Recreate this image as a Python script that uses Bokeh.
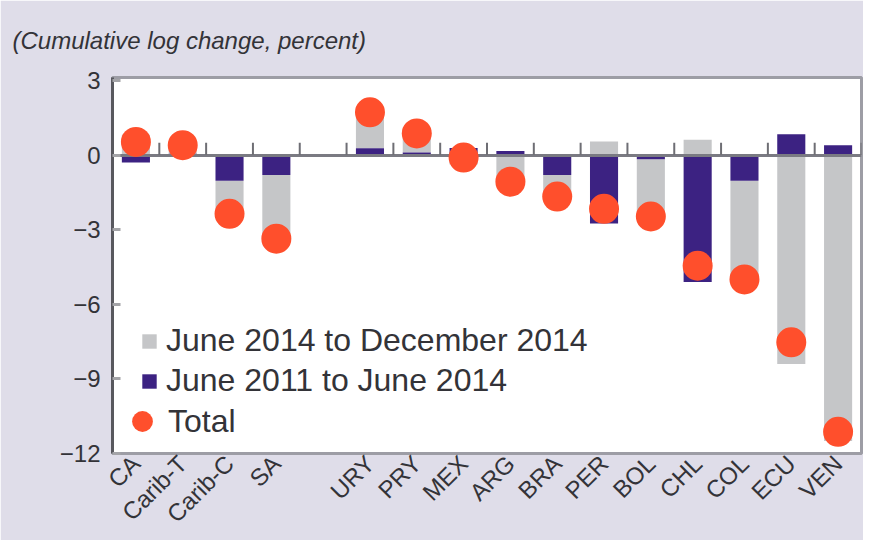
import math
from bokeh.plotting import figure
from bokeh.models import (FixedTicker, Legend, LegendItem, ColumnDataSource,
                          FactorRange, Range1d)
from bokeh.transform import dodge
from bokeh.embed import file_html
from bokeh.resources import INLINE

# ---- data -------------------------------------------------------------
categories = ["CA", "Carib-T", "Carib-C", "SA", " ", "URY", "PRY", "MEX",
              "ARG", "BRA", "PER", "BOL", "CHL", "COL", "ECU", "VEN"]
countries = ["CA", "Carib-T", "Carib-C", "SA", "URY", "PRY", "MEX", "ARG",
             "BRA", "PER", "BOL", "CHL", "COL", "ECU", "VEN"]
# June 2011 to June 2014
jun11_jun14 = [-0.30, 0.05, -1.03, -0.80, 0.27, 0.10, 0.28, 0.16, -0.80,
               -2.75, -0.17, -5.10, -1.03, 0.84, 0.40]
# June 2014 to December 2014
jun14_dec14 = [0.82, 0.35, -1.33, -2.56, 1.45, 0.77, -0.38, -1.23, -0.87,
               0.55, -2.30, 0.62, -3.97, -8.40, -11.50]
total = [0.53, 0.40, -2.36, -3.36, 1.72, 0.87, -0.10, -1.07, -1.67, -2.16,
         -2.47, -4.45, -5.00, -7.53, -11.13]
y_ticks = [3, 0, -3, -6, -9, -12]
title_text = "(Cumulative log change, percent)"

# ---- stacking (positives on positives, negatives on negatives) --------
pre_bottom = [0.0] * len(countries)
pre_top = list(jun11_jun14)
post_bottom = [a if (a >= 0) == (b >= 0) else 0.0
               for a, b in zip(jun11_jun14, jun14_dec14)]
post_top = [pb + b for pb, b in zip(post_bottom, jun14_dec14)]

src = ColumnDataSource(dict(cat=countries, pre_b=pre_bottom, pre_t=pre_top,
                            post_b=post_bottom, post_t=post_top, total=total))

BG = "#dfdde9"
GRAY = "#c5c6c8"
PURPLE = "#3c2282"
RED = "#ff4f2c"
TXT = "#333338"
FONT = "Liberation Sans"

p = figure(x_range=FactorRange(factors=categories, range_padding=0),
           y_range=Range1d(-12.0, 3.12),
           width=863, height=540, output_backend="svg", toolbar_location=None,
           min_border_left=112, min_border_right=2, min_border_top=77,
           min_border_bottom=85)
p.border_fill_color = BG
p.background_fill_color = "white"
p.outline_line_color = "#9d9da5"
p.outline_line_width = 3
p.xgrid.visible = False
p.ygrid.visible = False

# title
p.title.text = title_text
p.title.text_font = FONT
p.title.text_font_style = "italic"
p.title.text_font_size = "24px"
p.title.text_color = TXT
p.title.align = "left"
p.title.offset = -100
p.title.standoff = 47

# bars
r_post = p.vbar(x="cat", top="post_t", bottom="post_b", width=0.6,
                source=src, fill_color=GRAY, line_color=None)
r_pre = p.vbar(x="cat", top="pre_t", bottom="pre_b", width=0.6,
               source=src, fill_color=PURPLE, line_color=None)

# zero line and category boundary ticks
p.hspan(y=[0], line_color="#7a7a82", line_width=3)
tick_src = ColumnDataSource(dict(cat=categories,
                                 y0=[0.0] * len(categories),
                                 y1=[0.5] * len(categories)))
p.segment(x0=dodge("cat", 0.5, range=p.x_range), y0="y0",
          x1=dodge("cat", 0.5, range=p.x_range), y1="y1",
          source=tick_src, line_color="#6e6e74", line_width=2)

# totals
r_tot = p.scatter(x="cat", y="total", source=src, size=30,
                  fill_color=RED, line_color=None)

# axes
p.yaxis.ticker = FixedTicker(ticks=y_ticks)
p.yaxis.major_label_overrides = {t: (str(t).replace("-", "\u2212")) for t in y_ticks}
p.yaxis.major_label_text_font = FONT
p.yaxis.major_label_text_font_size = "24px"
p.yaxis.major_label_text_color = TXT
p.yaxis.axis_line_color = "#58585e"
p.yaxis.axis_line_width = 3
p.yaxis.major_tick_in = 8
p.yaxis.major_tick_out = 0
p.yaxis.major_tick_line_color = "#a4a4a8"
p.yaxis.major_tick_line_width = 3
p.yaxis.minor_tick_line_color = None
p.yaxis.major_label_standoff = 12

p.xaxis.major_label_orientation = math.pi / 4
p.xaxis.major_label_text_font = FONT
p.xaxis.major_label_text_font_size = "24px"
p.xaxis.major_label_text_color = TXT
p.xaxis.axis_line_color = None
p.xaxis.major_tick_line_color = None
p.xaxis.minor_tick_line_color = None
p.xaxis.major_label_standoff = 0

# legends: bar series (small squares) and total (larger dot)
legend_a = Legend(items=[
    LegendItem(label="June 2014 to December 2014", renderers=[r_post]),
    LegendItem(label="June 2011 to June 2014", renderers=[r_pre]),
], location=(28, 54), orientation="vertical")
legend_b = Legend(items=[
    LegendItem(label="Total", renderers=[r_tot]),
], location=(4, 6), orientation="vertical")
for lg, gw in ((legend_a, 18), (legend_b, 52)):
    lg.background_fill_alpha = 0
    lg.border_line_color = None
    lg.label_text_font = FONT
    lg.label_text_font_size = "32px"
    lg.label_text_color = TXT
    lg.glyph_width = gw
    lg.glyph_height = gw
    lg.spacing = 3
    lg.padding = 0
    lg.margin = 0
    lg.label_height = 37
legend_a.label_standoff = 8
legend_b.label_standoff = 0
p.add_layout(legend_a, "center")
p.add_layout(legend_b, "center")

open("out.html", "w").write(file_html(p, INLINE))
